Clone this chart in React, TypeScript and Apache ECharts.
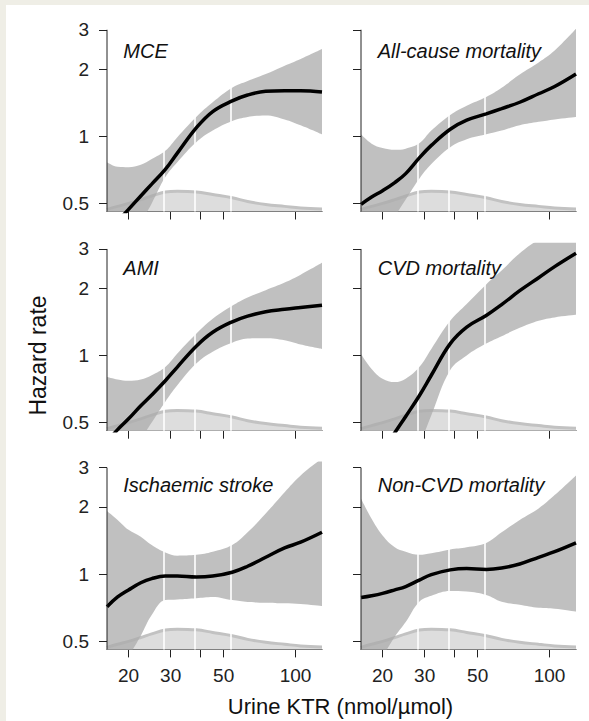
import React, { useEffect, useRef } from "react";
import * as echarts from "echarts";

// ---- data ----
const KTR = [16.25, 18, 20, 22.5, 25, 28.5, 32, 38.4, 45, 54.3, 63, 75, 90, 105, 129];
const QUARTILES = [28.5, 38.4, 54.3];
const X_TICKS = [20, 30, 40, 50, 100];
const X_LABELS = [20, 30, 50, 100];
const Y_TICKS = [0.5, 1, 2, 3];
const X_MIN = 16.25;
const X_MAX = 129;
const Y_MIN = 0.46;
const Y_MAX = 3.2;
const Y_AXIS_TOP = 3;

const DENSITY = [0.47, 0.485, 0.5, 0.52, 0.54, 0.562, 0.567, 0.563, 0.548, 0.53, 0.51, 0.495, 0.485, 0.477, 0.472];

const TITLES = ["MCE", "All-cause mortality", "AMI", "CVD mortality", "Ischaemic stroke", "Non-CVD mortality"];

const MCE_FIT = [0.37, 0.415, 0.47, 0.54, 0.61, 0.71, 0.84, 1.09, 1.29, 1.44, 1.53, 1.59, 1.6, 1.6, 1.58];
const MCE_LO = [0.22, 0.26, 0.32, 0.41, 0.5, 0.656, 0.765, 0.94, 1.06, 1.17, 1.22, 1.24, 1.19, 1.12, 1.02];
const MCE_HI = [0.765, 0.73, 0.727, 0.745, 0.79, 0.86, 0.99, 1.22, 1.42, 1.65, 1.77, 1.9, 2.07, 2.22, 2.46];

const ALL_FIT = [0.495, 0.534, 0.57, 0.62, 0.68, 0.8, 0.91, 1.075, 1.18, 1.26, 1.33, 1.42, 1.55, 1.67, 1.9];
const ALL_LO = [0.25, 0.3, 0.36, 0.437, 0.52, 0.645, 0.75, 0.893, 0.97, 1.02, 1.06, 1.12, 1.16, 1.19, 1.22];
const ALL_HI = [1.02, 0.926, 0.885, 0.869, 0.88, 0.93, 1.06, 1.245, 1.37, 1.5, 1.65, 1.89, 2.14, 2.42, 3.03];

const AMI_FIT = [0.41, 0.465, 0.52, 0.595, 0.665, 0.77, 0.887, 1.1, 1.27, 1.415, 1.5, 1.57, 1.61, 1.64, 1.68];
const AMI_LO = [0.24, 0.285, 0.34, 0.42, 0.5, 0.62, 0.735, 0.92, 1.04, 1.14, 1.19, 1.195, 1.17, 1.12, 1.07];
const AMI_HI = [0.8, 0.78, 0.77, 0.78, 0.815, 0.887, 1.02, 1.25, 1.46, 1.67, 1.82, 1.96, 2.12, 2.3, 2.6];

const CVD_FIT = [0.26, 0.31, 0.37, 0.45, 0.533, 0.66, 0.815, 1.13, 1.34, 1.51, 1.69, 1.95, 2.23, 2.5, 2.87];
const CVD_LO = [0.15, 0.18, 0.22, 0.27, 0.32, 0.4, 0.54, 0.86, 1.0, 1.13, 1.22, 1.33, 1.43, 1.48, 1.52];
const CVD_HI = [1.015, 0.87, 0.787, 0.76, 0.787, 0.887, 1.07, 1.43, 1.7, 2.08, 2.4, 2.87, 3.3, 3.6, 4.0];

const STROKE_FIT = [0.714, 0.79, 0.85, 0.915, 0.955, 0.98, 0.98, 0.97, 0.98, 1.02, 1.085, 1.19, 1.31, 1.39, 1.54];
const STROKE_LO = [0.32, 0.37, 0.43, 0.53, 0.656, 0.765, 0.77, 0.78, 0.79, 0.765, 0.75, 0.745, 0.74, 0.735, 0.72];
const STROKE_HI = [1.92, 1.75, 1.58, 1.47, 1.35, 1.25, 1.21, 1.22, 1.26, 1.35, 1.54, 1.87, 2.33, 2.77, 3.3];

const NONCVD_FIT = [0.785, 0.8, 0.82, 0.85, 0.88, 0.94, 0.995, 1.045, 1.06, 1.05, 1.065, 1.11, 1.19, 1.26, 1.38];
const NONCVD_LO = [0.33, 0.38, 0.43, 0.524, 0.61, 0.752, 0.8, 0.84, 0.835, 0.806, 0.752, 0.73, 0.707, 0.7, 0.68];
const NONCVD_HI = [2.18, 1.77, 1.49, 1.32, 1.26, 1.22, 1.24, 1.29, 1.32, 1.38, 1.54, 1.75, 1.97, 2.26, 2.77];

const PANELS = [
  { fit: MCE_FIT, lo: MCE_LO, hi: MCE_HI },
  { fit: ALL_FIT, lo: ALL_LO, hi: ALL_HI },
  { fit: AMI_FIT, lo: AMI_LO, hi: AMI_HI },
  { fit: CVD_FIT, lo: CVD_LO, hi: CVD_HI },
  { fit: STROKE_FIT, lo: STROKE_LO, hi: STROKE_HI },
  { fit: NONCVD_FIT, lo: NONCVD_LO, hi: NONCVD_HI },
];

// ---- layout ----
const FONT = "'Liberation Sans', Arial, Helvetica, sans-serif";
const COL_LEFT = [101, 355];
const ROW_TOP = [18.5, 237.7, 456.4];
const GRID_W = 215;
const GRID_H = 188;
const TITLE_Y = [46.2, 262.5, 479.7];
const TITLE_X = [117.3, 371.7];
const AXIS_COLOR = "#222";
const BAND_COLOR = "rgba(172,172,172,0.76)";

const L = (v: number) => Math.log10(v);
const fmt = (v: number) => String(Math.round(Math.pow(10, v) * 10) / 10);

export default function App() {
  const ref = useRef<HTMLDivElement>(null);
  useEffect(() => {
    document.body.style.margin = "0";
    const chart = echarts.init(ref.current!, null, { renderer: "svg" });
    const grid: any[] = [];
    const xAxis: any[] = [];
    const yAxis: any[] = [];
    const series: any[] = [];
    const graphic: any[] = [];

    PANELS.forEach((p, i) => {
      const row = Math.floor(i / 2);
      const col = i % 2;
      grid.push({ left: COL_LEFT[col], top: ROW_TOP[row], width: GRID_W, height: GRID_H });
      xAxis.push({
        type: "value",
        gridIndex: i,
        min: L(X_MIN),
        max: L(X_MAX),
        axisLine: { show: true, onZero: false, lineStyle: { color: AXIS_COLOR, width: 1 } },
        axisTick: { show: true, length: 8, customValues: X_TICKS.map(L), lineStyle: { color: AXIS_COLOR, width: 1 } },
        axisLabel: {
          show: row === 2,
          customValues: X_LABELS.map(L),
          formatter: fmt,
          margin: 17,
          fontSize: 19,
          fontFamily: FONT,
          color: AXIS_COLOR,
        },
        splitLine: { show: false },
      });
      yAxis.push({
        type: "value",
        gridIndex: i,
        min: L(Y_MIN),
        max: L(Y_MAX),
        axisLine: { show: false, onZero: false },
        axisTick: { show: true, length: 8, customValues: Y_TICKS.map(L), lineStyle: { color: AXIS_COLOR, width: 1 } },
        axisLabel: {
          show: col === 0,
          customValues: Y_TICKS.map(L),
          formatter: fmt,
          margin: 18,
          fontSize: 19,
          fontFamily: FONT,
          color: AXIS_COLOR,
        },
        splitLine: { show: false },
      });
      const xs = KTR.map(L);
      // density
      series.push({
        type: "line",
        xAxisIndex: i,
        yAxisIndex: i,
        data: xs.map((x, j) => [x, L(DENSITY[j])]),
        smooth: 0.4,
        symbol: "none",
        z: 1,
        lineStyle: { color: "#c2c2c2", width: 3 },
        areaStyle: { color: "#dddddd", opacity: 1, origin: "start" },
      });
      // band: lower edge, then (upper - lower) stacked on it; y is dimension 0 so it is the stacked one
      series.push({
        type: "line",
        xAxisIndex: i,
        yAxisIndex: i,
        stack: "band" + i,
        stackStrategy: "all",
        encode: { x: 1, y: 0 },
        data: xs.map((x, j) => [L(p.lo[j]), x]),
        smooth: 0.4,
        symbol: "none",
        z: 2,
        lineStyle: { opacity: 0, width: 0 },
      });
      series.push({
        type: "line",
        xAxisIndex: i,
        yAxisIndex: i,
        stack: "band" + i,
        stackStrategy: "all",
        encode: { x: 1, y: 0 },
        data: xs.map((x, j) => [L(p.hi[j]) - L(p.lo[j]), x]),
        smooth: 0.4,
        symbol: "none",
        z: 2,
        lineStyle: { opacity: 0, width: 0 },
        areaStyle: { color: BAND_COLOR, opacity: 1 },
      });
      // y axis line (from the bottom up to the top tick)
      series.push({
        type: "line",
        xAxisIndex: i,
        yAxisIndex: i,
        data: [
          [L(X_MIN), L(Y_MIN)],
          [L(X_MIN), L(Y_AXIS_TOP)],
        ],
        symbol: "none",
        clip: false,
        z: 6,
        lineStyle: { color: AXIS_COLOR, width: 1 },
      });
      // quartile white lines + fitted line
      series.push({
        type: "line",
        xAxisIndex: i,
        yAxisIndex: i,
        data: xs.map((x, j) => [x, L(p.fit[j])]),
        smooth: 0.4,
        symbol: "none",
        z: 4,
        lineStyle: { color: "#000", width: 3.5 },
        markLine: {
          silent: true,
          z: 3,
          symbol: ["none", "none"],
          label: { show: false },
          lineStyle: { color: "#ffffff", width: 1.6, type: "solid" },
          data: QUARTILES.map((q) => ({ xAxis: L(q) })),
        },
      });
      graphic.push({
        type: "text",
        x: TITLE_X[col],
        y: TITLE_Y[row],
        z: 100,
        style: {
          text: TITLES[i],
          font: "italic 20px " + FONT,
          fill: "#111",
          align: "left",
          verticalAlign: "middle",
        },
      });
    });

    graphic.push({
      type: "text",
      x: 334.5,
      y: 701.7,
      z: 100,
      style: {
        text: "Urine KTR (nmol/µmol)",
        font: "22px " + FONT,
        fill: "#111",
        align: "center",
        verticalAlign: "middle",
      },
    });
    graphic.push({
      type: "text",
      x: 32,
      y: 350.5,
      rotation: Math.PI / 2,
      z: 100,
      style: {
        text: "Hazard rate",
        font: "23px " + FONT,
        fill: "#111",
        align: "center",
        verticalAlign: "middle",
      },
    });

    chart.setOption({
      animation: false,
      backgroundColor: "#ffffff",
      grid,
      xAxis,
      yAxis,
      series,
      graphic,
    });
    return () => chart.dispose();
  }, []);
  return (
    <div style={{ width: 589, height: 721, background: "#efeee6", position: "relative" }}>
      <div ref={ref} style={{ position: "absolute", left: 6, top: 5, width: 583, height: 716, background: "#fff" }} />
    </div>
  );
}
